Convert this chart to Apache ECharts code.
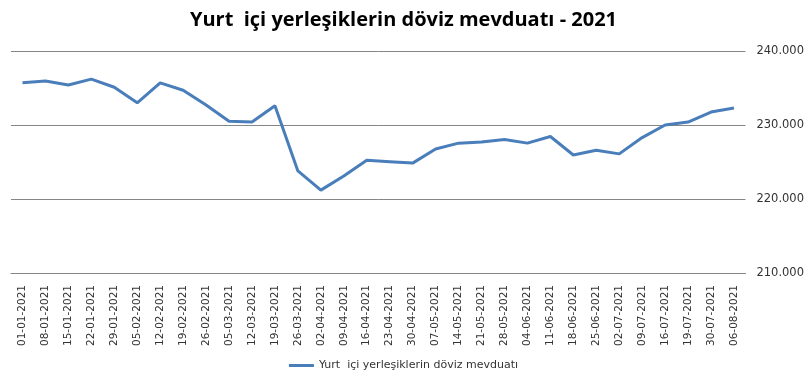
<!DOCTYPE html>
<html>
<head>
<meta charset="utf-8">
<script src="https://cdn.jsdelivr.net/npm/echarts@6/dist/echarts.min.js"></script>
<style>html,body{margin:0;padding:0;background:#fff}#c{width:807px;height:382px}</style>
</head>
<body>
<div id="c"></div>
<script>
const title = 'Yurt  içi yerleşiklerin döviz mevduatı - 2021';
const seriesName = 'Yurt  içi yerleşiklerin döviz mevduatı';
const categories = ['01-01-2021','08-01-2021','15-01-2021','22-01-2021','29-01-2021','05-02-2021','12-02-2021','19-02-2021','26-02-2021','05-03-2021','12-03-2021','19-03-2021','26-03-2021','02-04-2021','09-04-2021','16-04-2021','23-04-2021','30-04-2021','07-05-2021','14-05-2021','21-05-2021','28-05-2021','04-06-2021','11-06-2021','18-06-2021','25-06-2021','02-07-2021','09-07-2021','16-07-2021','19-07-2021','30-07-2021','06-08-2021'];
const values = [235700,235950,235400,236200,235100,233000,235700,234700,232700,230500,230400,232600,223800,221200,223100,225250,225050,224850,226750,227550,227700,228050,227550,228450,225950,226600,226100,228300,230000,230400,231750,232300];
const yMin = 210000, yMax = 240000, yStep = 10000;

const chart = echarts.init(document.getElementById('c'));
chart.setOption({
  animation: false,
  title: {text: title, left: 'center', top: 5,
    textStyle: {fontFamily: 'Open Sans', fontWeight: 'bold', fontSize: 20, color: '#000'}},
  legend: {bottom: 6, left: 'center', icon: 'rect', itemWidth: 25, itemHeight: 3, itemGap: 0,
    textStyle: {fontFamily: 'DejaVu Sans', fontSize: 11, color: '#333'},
    data: [seriesName]},
  grid: {left: 11, right: 60, top: 51, bottom: 109},
  xAxis: {type: 'category', data: categories, boundaryGap: true,
    axisLine: {show: true, lineStyle: {color: '#868686'}}, axisTick: {show: false},
    axisLabel: {rotate: 90, interval: 0, fontFamily: 'DejaVu Sans', fontSize: 10.5, color: '#333', margin: 12}},
  yAxis: {type: 'value', position: 'right', min: yMin, max: yMax, interval: yStep,
    axisLine: {show: false}, axisTick: {show: false},
    splitLine: {lineStyle: {color: '#868686', width: 1}},
    axisLabel: {margin: 11, fontFamily: 'DejaVu Sans', fontSize: 11.5, color: '#333',
      formatter: v => String(v).replace(/\B(?=(\d{3})+(?!\d))/g, '.')}},
  series: [{name: seriesName, type: 'line', data: values, showSymbol: false, symbol: 'none',
    lineStyle: {color: '#4a7ebb', width: 3}, itemStyle: {color: '#4a7ebb'}}]
});
</script>
</body>
</html>
